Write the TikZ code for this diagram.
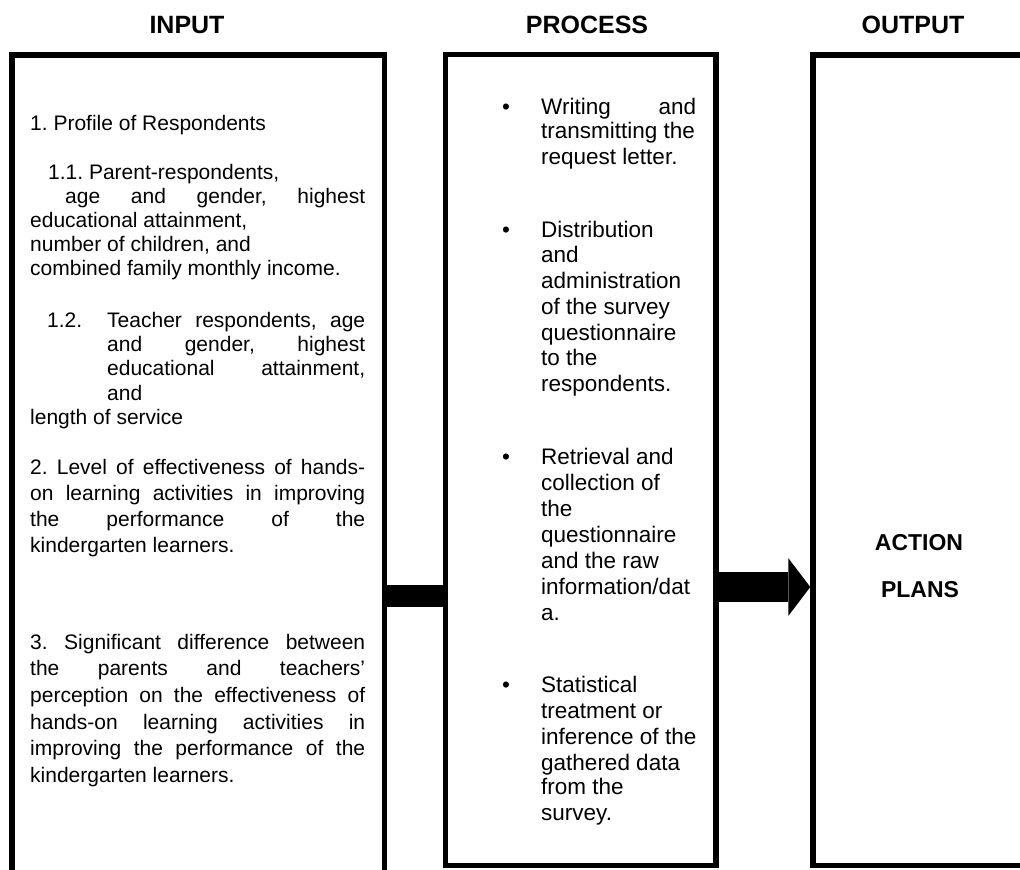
\documentclass[tikz,border=0pt]{standalone}
\usepackage{fontspec}
\setmainfont{Liberation Sans}
\usetikzlibrary{arrows.meta}
\frenchspacing
\begin{document}
\begin{tikzpicture}[x=1pt,y=-1pt,
  box/.style={draw, line width=5.5pt, inner sep=0pt},
  ttl/.style={inner sep=0pt, font=\bfseries\fontsize{25}{30}\selectfont},
  big/.style={inner sep=0pt, font=\bfseries\fontsize{23}{28}\selectfont},
  itxt/.style={anchor=base west, inner sep=0pt, font=\frenchspacing\fontsize{21}{25}\selectfont},
  ptxt/.style={anchor=base west, inner sep=0pt, font=\frenchspacing\fontsize{22.5}{26}\selectfont},
  bar/.style={line width=22pt},
  fat/.style={line width=30pt, -{Triangle[length=22pt 0 0, width=58pt 0 0, line width=0pt]}}]
\useasboundingbox (0,0) rectangle (1020,870);
\clip (0,0) rectangle (1020,870);
\fill[white] (0,0) rectangle (1020,870);

% boxes
\node[box, minimum width=372.5pt, minimum height=845pt] (input) at (198.25,477.5) {};
\node[box, minimum width=270.5pt, minimum height=811pt] (process) at (580.75,460) {};
\node[box, minimum width=227pt, minimum height=810.5pt] (output) at (926.5,460.25) {};

% titles
\node[ttl] (tin) at (187,25) {INPUT};
\node[ttl] (tpr) at (587,25) {PROCESS};
\node[ttl] (tout) at (913,25) {OUTPUT};

% connectors
\coordinate (barY) at (0,596);
\coordinate (arrY) at (0,587);
\draw[bar] (input.east |- barY) -- (process.west |- barY);
\draw[fat] (process.east |- arrY) -- (output.west |- arrY);

% output text
\node[big] (act) at (919,543) {ACTION};
\node[big] (pla) at (920,590) {PLANS};

% input text
\node[itxt] (i1) at (30,130) {1. Profile of Respondents};
\node[itxt] (i2) at (48,179) {1.1. Parent-respondents,};
\node[itxt] (i3) at (65,203) {\makebox[300pt][s]{age and gender, highest}};
\node[itxt] (i4) at (30,227) {educational attainment,};
\node[itxt] (i5) at (30,251) {number of children, and};
\node[itxt] (i6) at (30,275) {combined family monthly income.};
\node[itxt] (i7) at (47,327) {1.2.};
\node[itxt] (i7b) at (107,327) {\makebox[258pt][s]{Teacher respondents, age}};
\node[itxt] (i8) at (107,351) {\makebox[258pt][s]{and gender, highest}};
\node[itxt] (i9) at (107,375) {\makebox[258pt][s]{educational attainment,}};
\node[itxt] (i10) at (107,400) {and};
\node[itxt] (i11) at (30,424) {length of service};
\node[itxt] (i12) at (30,474) {\makebox[335pt][s]{2. Level of effectiveness of hands-}};
\node[itxt] (i13) at (30,500) {\makebox[335pt][s]{on learning activities in improving}};
\node[itxt] (i14) at (30,526) {\makebox[335pt][s]{the performance of the}};
\node[itxt] (i15) at (30,552) {kindergarten learners.};
\node[itxt] (i16) at (30,649) {\makebox[335pt][s]{3. Significant difference between}};
\node[itxt] (i17) at (30,675) {\makebox[335pt][s]{the parents and teachers’}};
\node[itxt] (i18) at (30,702) {\makebox[335pt][s]{perception on the effectiveness of}};
\node[itxt] (i19) at (30,729) {\makebox[335pt][s]{hands-on learning activities in}};
\node[itxt] (i20) at (30,755) {\makebox[335pt][s]{improving the performance of the}};
\node[itxt] (i21) at (30,782) {kindergarten learners.};

% process text
\node[ptxt] (b1) at (502,114.5) {•};
\node[ptxt] (p1) at (541,114.5) {\makebox[155pt][s]{Writing and}};
\node[ptxt] (p2) at (541,138.5) {transmitting the};
\node[ptxt] (p3) at (541,164.5) {request letter.};
\node[ptxt] (b2) at (502,237.5) {•};
\node[ptxt] (p4) at (541,237.5) {Distribution};
\node[ptxt] (p5) at (541,262.5) {and};
\node[ptxt] (p6) at (541,288.5) {administration};
\node[ptxt] (p7) at (541,314.5) {of the survey};
\node[ptxt] (p8) at (541,340.5) {questionnaire};
\node[ptxt] (p9) at (541,365.5) {to the};
\node[ptxt] (p10) at (541,391.5) {respondents.};
\node[ptxt] (b3) at (502,464.5) {•};
\node[ptxt] (p11) at (541,464.5) {Retrieval and};
\node[ptxt] (p12) at (541,490.5) {collection of};
\node[ptxt] (p13) at (541,516.5) {the};
\node[ptxt] (p14) at (541,542.5) {questionnaire};
\node[ptxt] (p15) at (541,568.5) {and the raw};
\node[ptxt] (p16) at (541,594.5) {information/dat};
\node[ptxt] (p17) at (541,620.5) {a.};
\node[ptxt] (b4) at (502,692.5) {•};
\node[ptxt] (p18) at (541,692.5) {Statistical};
\node[ptxt] (p19) at (541,718.5) {treatment or};
\node[ptxt] (p20) at (541,744.5) {inference of the};
\node[ptxt] (p21) at (541,770.5) {gathered data};
\node[ptxt] (p22) at (541,794.5) {from the};
\node[ptxt] (p23) at (541,820.5) {survey.};
\end{tikzpicture}
\end{document}
